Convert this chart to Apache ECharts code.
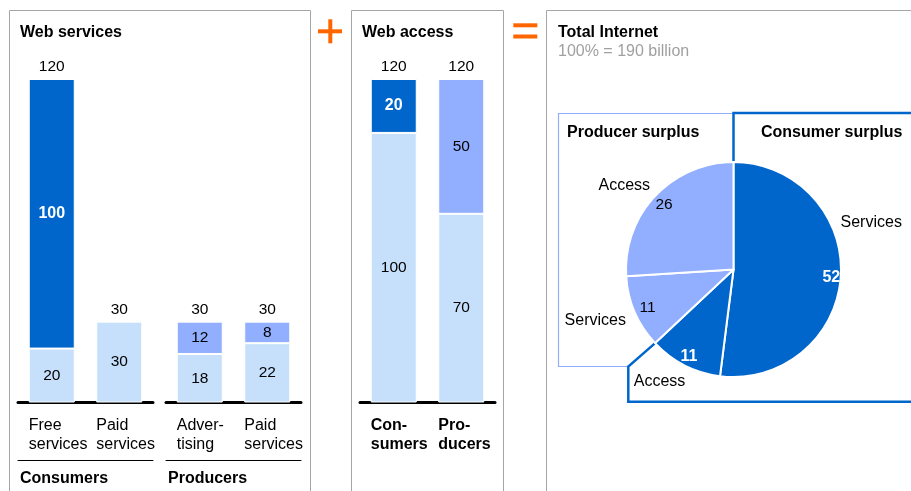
<!DOCTYPE html>
<html><head><meta charset="utf-8">
<script src="https://cdn.jsdelivr.net/npm/echarts@6/dist/echarts.min.js"></script>
<style>html,body{margin:0;padding:0;background:#fff}#c{width:911px;height:491px}</style>
</head><body><div id="c"></div><script>
// ---- data ----
const consumerCategories = ['Free\nservices', 'Paid\nservices'];
const consumerBase = [20, 30];
const consumerTop = [100, null];
const consumerTopKind = ['consumer', 'consumer'];
const consumerTotals = [120, 30];

const producerCategories = ['Adver-\ntising', 'Paid\nservices'];
const producerBase = [18, 22];
const producerTop = [12, 8];
const producerTopKind = ['producer', 'producer'];
const producerTotals = [30, 30];

const accessCategories = ['Con-\nsumers', 'Pro-\nducers'];
const accessBase = [100, 70];
const accessTop = [20, 50];
const accessTopKind = ['consumer', 'producer'];
const accessTotals = [120, 120];

const groupLabels = ['Consumers', 'Producers'];

const pieNames = ['Services', 'Access', 'Services', 'Access'];
const pieValues = [52, 11, 11, 26];
const pieSide = ['consumer', 'consumer', 'producer', 'producer'];

// ---- styles ----
const DARK = '#0066CC', MED = '#91AEFF', LIGHT = '#C6E0FB', ORANGE = '#FF6600', FRAME = '#A6A6A6';
const FF = '"Liberation Sans", Arial, sans-serif';
const topColor = k => k === 'consumer' ? DARK : MED;

function barSeries(xi, yi, base, top, kinds, totals) {
  const common = { type: 'bar', xAxisIndex: xi, yAxisIndex: yi, barWidth: 46, barGap: '-100%', silent: true };
  return [
    Object.assign({}, common, {
      data: totals, z: 1,
      itemStyle: { color: 'rgba(0,0,0,0)' },
      label: { show: true, position: 'top', distance: 4, color: '#000', fontSize: 15.5, fontFamily: FF }
    }),
    Object.assign({}, common, {
      stack: 's' + xi, data: base, z: 2,
      itemStyle: { color: LIGHT, borderColor: '#fff', borderWidth: 1 },
      label: { show: true, position: 'inside', color: '#000', fontSize: 15.5, fontFamily: FF }
    }),
    Object.assign({}, common, {
      stack: 's' + xi, z: 2,
      data: top.map((v, i) => v == null ? '-' : {
        value: v,
        itemStyle: { color: topColor(kinds[i]) },
        label: kinds[i] === 'consumer'
          ? { color: '#fff', fontWeight: 'bold', fontSize: 16 }
          : { color: '#000', fontWeight: 'normal', fontSize: 15.5 }
      }),
      itemStyle: { borderColor: '#fff', borderWidth: 1 },
      label: { show: true, position: 'inside', fontFamily: FF }
    })
  ];
}

function catAxis(gi, data, bold) {
  return {
    gridIndex: gi, type: 'category', data: data, position: 'bottom',
    axisLine: { lineStyle: { color: '#000', width: 3 } },
    axisTick: { show: false },
    axisLabel: {
      interval: 0, margin: 14,
      formatter: v => '{a|' + v + '}',
      rich: { a: { width: 46, align: 'left', fontSize: 16, lineHeight: 19, color: '#000', fontFamily: FF, fontWeight: bold ? 'bold' : 'normal' } }
    }
  };
}
function groupAxis(gi, label) {
  return {
    gridIndex: gi, type: 'category', data: [label], position: 'bottom', offset: 57.5,
    axisLine: { lineStyle: { color: '#000', width: 1 } },
    axisTick: { show: false },
    axisLabel: {
      interval: 0, margin: 11,
      formatter: v => '{g|' + v + '}',
      rich: { g: { width: 131, align: 'left', fontSize: 16, fontWeight: 'bold', color: '#000', fontFamily: FF } }
    }
  };
}
const valAxis = gi => ({ gridIndex: gi, type: 'value', min: 0, max: 120, show: false });

// pie geometry
const PC = [733.5, 269.5], PR = 107.5;
const pieTotal = pieValues.reduce((a, b) => a + b, 0);
const consumerFrac = pieValues.filter((v, i) => pieSide[i] === 'consumer').reduce((a, b) => a + b, 0) / pieTotal;
const th = consumerFrac * 2 * Math.PI;
const edgePt = [PC[0] + PR * Math.sin(th), PC[1] - PR * Math.cos(th)];

const innerOffsets = [[0, 2], [0, 0], [4, -1], [2, 2]];
const outerOffsets = [[-5, -56], [-9, -15], [-7, -6], [-5, 14]];

function txt(x, y, text, font, fill) {
  return { type: 'text', x: x, y: y, silent: true, style: { text: text, font: font, fill: fill || '#000', verticalAlign: 'middle' } };
}
function line(points, stroke, w) {
  return { type: 'polyline', silent: true, shape: { points: points }, style: { stroke: stroke, lineWidth: w, fill: null } };
}

const chart = echarts.init(document.getElementById('c'));
chart.setOption({
  animation: false,
  backgroundColor: '#fff',
  grid: [
    { left: 18, width: 135, top: 79, bottom: 88.5 },
    { left: 166, width: 135, top: 79, bottom: 88.5 },
    { left: 360, width: 135, top: 79, bottom: 88.5 }
  ],
  xAxis: [
    catAxis(0, consumerCategories, false), groupAxis(0, groupLabels[0]),
    catAxis(1, producerCategories, false), groupAxis(1, groupLabels[1]),
    catAxis(2, accessCategories, true)
  ],
  yAxis: [valAxis(0), valAxis(1), valAxis(2)],
  series: [].concat(
    barSeries(0, 0, consumerBase, consumerTop, consumerTopKind, consumerTotals),
    barSeries(2, 1, producerBase, producerTop, producerTopKind, producerTotals),
    barSeries(4, 2, accessBase, accessTop, accessTopKind, accessTotals),
    [
      {
        type: 'pie', center: PC, radius: [0, PR], startAngle: 90, clockwise: true, silent: true, z: 3,
        data: pieValues.map((v, i) => ({ value: v, name: pieNames[i], itemStyle: { color: topColor(pieSide[i]) } })),
        itemStyle: { borderColor: '#fff', borderWidth: 2 },
        label: { show: false }, labelLine: { show: false }
      },
      {
        type: 'pie', center: PC, radius: [84, 106], startAngle: 90, clockwise: true, silent: true, z: 4,
        data: pieValues.map((v, i) => ({
          value: v, name: pieNames[i],
          label: pieSide[i] === 'consumer'
            ? { color: '#fff', fontWeight: 'bold', fontSize: 16 }
            : { color: '#000', fontWeight: 'normal', fontSize: 15.5 }
        })),
        itemStyle: { color: 'rgba(0,0,0,0)', borderWidth: 0 },
        label: { show: true, position: 'inside', formatter: '{c}', fontFamily: FF },
        labelLine: { show: false },
        labelLayout: p => ({ dx: innerOffsets[p.dataIndex][0], dy: innerOffsets[p.dataIndex][1] })
      },
      {
        type: 'pie', center: PC, radius: [130, 150], startAngle: 90, clockwise: true, silent: true, z: 4,
        data: pieValues.map((v, i) => ({ value: v, name: pieNames[i] })),
        itemStyle: { color: 'rgba(0,0,0,0)', borderWidth: 0 },
        label: { show: true, position: 'inside', formatter: '{b}', fontSize: 16, color: '#000', fontFamily: FF },
        labelLine: { show: false },
        labelLayout: p => ({ dx: outerOffsets[p.dataIndex][0], dy: outerOffsets[p.dataIndex][1] })
      }
    ]
  ),
  graphic: [
    line([[9.5, 495], [9.5, 10.5], [310.5, 10.5], [310.5, 495]], FRAME, 1),
    line([[351.5, 495], [351.5, 10.5], [503.5, 10.5], [503.5, 495]], FRAME, 1),
    line([[546.5, 495], [546.5, 10.5], [915, 10.5]], FRAME, 1),
    { type: 'rect', silent: true, shape: { x: 318, y: 29.3, width: 24, height: 4 }, style: { fill: ORANGE } },
    { type: 'rect', silent: true, shape: { x: 328.3, y: 19.3, width: 4, height: 24 }, style: { fill: ORANGE } },
    { type: 'rect', silent: true, shape: { x: 513.3, y: 23.3, width: 24, height: 4 }, style: { fill: ORANGE } },
    { type: 'rect', silent: true, shape: { x: 513.3, y: 34.5, width: 24, height: 4 }, style: { fill: ORANGE } },
    txt(20, 32.5, 'Web services', 'bold 16px ' + FF),
    txt(362, 32.5, 'Web access', 'bold 16px ' + FF),
    txt(558, 32.5, 'Total Internet', 'bold 16px ' + FF),
    txt(558, 51.5, '100% = 190 billion', '16px ' + FF, '#A0A0A0'),
    line([[733, 113.5], [558.5, 113.5], [558.5, 366.5], [628.3, 366.5]], MED, 1.2),
    line([[PC[0], PC[1] - PR], [PC[0], 113], [915, 113]], DARK, 2.5),
    line([edgePt, [628.3, 366.5], [628.3, 401.7], [915, 401.7]], DARK, 2.5),
    txt(567, 133, 'Producer surplus', 'bold 16px ' + FF),
    txt(761, 133, 'Consumer surplus', 'bold 16px ' + FF)
  ]
});
</script></body></html>
